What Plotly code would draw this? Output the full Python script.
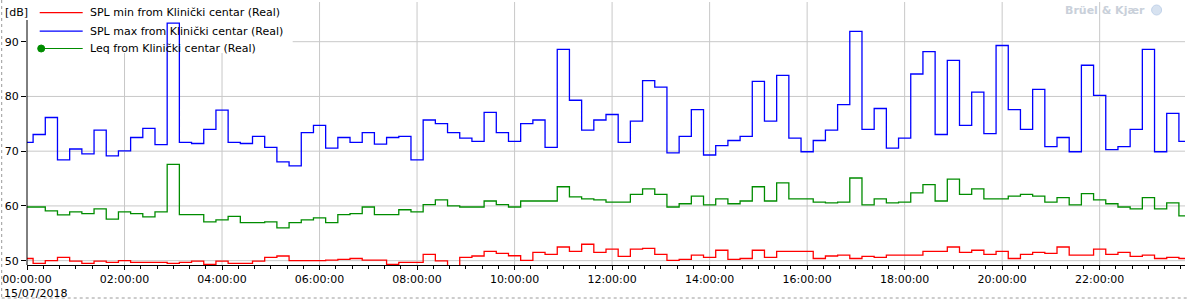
import plotly.graph_objects as go
import pandas as pd

# ---- data (15-min periods, 15/07/2018) ----
times = pd.date_range("2018-07-15 00:00:00", periods=96, freq="15min")

spl_max = [71.6, 73.05, 76.15, 68.4, 70.4, 69.5, 73.85, 69.15, 70.05, 72.5, 74.15, 71.2,
           93.4, 71.6, 71.4, 74.0, 77.5, 71.6, 71.4, 72.7, 70.7, 68.05, 67.3, 73.4,
           74.7, 70.55, 72.5, 71.6, 73.4, 71.3, 72.5, 72.7, 68.4, 75.7, 75.05, 73.4,
           72.4, 71.8, 77.1, 73.4, 71.8, 75.05, 75.7, 70.7, 88.6, 79.3, 73.85, 75.7,
           76.7, 71.6, 75.5, 82.9, 81.7, 69.7, 72.7, 77.6, 69.3, 71.0, 71.95, 72.7,
           82.75, 75.5, 83.85, 72.4, 69.9, 71.95, 73.85, 78.5, 91.9, 74.0, 77.8, 70.55,
           72.4, 84.1, 88.2, 73.05, 86.6, 74.7, 80.8, 73.2, 89.3, 77.6, 74.0, 81.3,
           70.85, 72.5, 69.9, 85.7, 80.2, 70.3, 70.85, 74.0, 88.6, 69.9, 76.9, 71.8]

leq = [59.8, 59.8, 59.1, 58.35, 58.9, 58.6, 59.45, 57.6, 58.9, 58.6, 58.0, 58.9,
       67.6, 58.4, 58.4, 57.1, 57.45, 58.1, 56.95, 56.95, 57.1, 56.0, 56.95, 57.45,
       57.8, 56.95, 58.4, 58.6, 59.8, 58.4, 58.4, 59.3, 58.9, 60.25, 61.1, 60.0,
       59.8, 59.8, 60.9, 60.25, 59.8, 60.9, 60.9, 60.9, 63.5, 61.65, 61.3, 61.1,
       60.7, 60.7, 62.1, 63.1, 62.1, 59.8, 60.4, 61.8, 60.2, 61.3, 60.4, 60.9,
       63.5, 60.9, 64.2, 61.3, 61.3, 60.7, 60.55, 60.7, 65.1, 60.2, 61.3, 60.55,
       60.7, 62.4, 63.9, 60.9, 64.9, 62.1, 63.1, 61.3, 61.3, 61.8, 62.1, 61.8,
       60.7, 61.5, 60.2, 62.25, 61.1, 60.4, 59.8, 59.45, 61.5, 59.45, 60.55, 58.2]

spl_min = [50.4, 49.5, 50.0, 50.6, 49.9, 49.5, 49.9, 49.7, 50.0, 49.7, 49.7, 49.7,
           49.5, 49.7, 49.9, 49.3, 49.9, 49.5, 49.5, 49.9, 50.6, 50.85, 50.0, 50.0,
           50.0, 50.1, 50.25, 50.4, 50.1, 50.1, 49.3, 49.7, 49.7, 51.15, 49.95, 49.1,
           50.6, 50.85, 51.7, 51.35, 50.9, 50.05, 51.5, 51.15, 52.5, 51.7, 53.0, 51.5,
           52.1, 50.8, 52.1, 52.25, 51.15, 50.05, 50.25, 51.0, 50.6, 51.9, 50.25, 50.4,
           51.9, 50.6, 51.7, 51.7, 51.7, 50.4, 50.85, 51.0, 50.4, 50.8, 50.6, 51.0,
           51.0, 51.0, 51.7, 51.7, 52.5, 51.5, 51.9, 51.15, 51.7, 50.4, 51.15, 51.5,
           51.35, 52.5, 51.0, 51.0, 52.1, 51.15, 51.5, 50.8, 51.0, 50.4, 50.6, 50.4]

y_ticks = [50, 60, 70, 80, 90]
x_ticks = pd.date_range("2018-07-15 00:00:00", "2018-07-15 22:00:00", freq="2h")

series_names = ["SPL min from Klinički centar (Real)",
                "SPL max from Klinički centar (Real)",
                "Leq from Klinički centar (Real)"]
series_colors = ["#ff0000", "#0000ff", "#008c00"]

W, H = 1190, 305
L, R, T, B = 27.3, 1185.4, 2, 265
LEG_R, LEG_B = 293, 53   # legend box (pixels) that hides the grid

def px(xp):
    return (xp - L) / (R - L)

def py(yp):
    return (B - yp) / (B - T)

fig = go.Figure()
for name, vals, col in zip(series_names, [spl_min, spl_max, leq], series_colors):
    fig.add_trace(go.Scatter(x=times, y=vals, name=name, mode="lines",
                             line=dict(color=col, width=1.3, shape="hvh"),
                             showlegend=False, hoverinfo="skip"))

font = "DejaVu Sans"
fs = 11
grid = "#c8c8c8"
shapes = []
annotations = []

# grid lines drawn as shapes (interrupted by the legend box)
x_end = pd.Timestamp("2018-07-15 23:45:00")
span = (x_end - times[0]).total_seconds()
for t in x_ticks[1:]:
    xp = L + (t - times[0]).total_seconds() / span * (R - L)
    top = py(LEG_B) if xp < LEG_R else 1
    shapes.append(dict(type="line", xref="x", yref="paper", x0=t, x1=t, y0=0, y1=top,
                       layer="below", line=dict(color=grid, width=1)))
for v in y_ticks:
    y_px = 41.7 + (90 - v) * 5.475
    left = px(LEG_R) if y_px < LEG_B else 0
    shapes.append(dict(type="line", xref="paper", yref="y", x0=left, x1=1, y0=v, y1=v,
                       layer="below", line=dict(color=grid, width=1)))

# custom legend
leg_rows = [12.7, 31.2, 48.5]
for yy, name, col in zip(leg_rows, series_names, series_colors):
    shapes.append(dict(type="line", xref="paper", yref="paper",
                       x0=px(40), x1=px(83), y0=py(yy), y1=py(yy),
                       line=dict(color=col, width=1.2)))
    annotations.append(dict(text=name, xref="paper", yref="paper",
                            x=px(88), y=py(yy), xanchor="left", yanchor="middle",
                            showarrow=False, font=dict(family=font, size=fs, color="#000")))
shapes.append(dict(type="circle", xref="paper", yref="paper",
                   x0=px(38), x1=px(45), y0=py(45), y1=py(52),
                   fillcolor="#008c00", line=dict(color="#008c00", width=1)))

# left axis line (starts below the unit label)
shapes.append(dict(type="line", xref="paper", yref="paper", x0=0, x1=0,
                   y0=py(20), y1=0, line=dict(color="#000", width=1)))

# y unit label
annotations.append(dict(text="[dB]", xref="paper", yref="paper", x=px(3), y=py(12.5),
                        xanchor="left", yanchor="middle", showarrow=False,
                        font=dict(family=font, size=fs, color="#000")))
# date under first tick
annotations.append(dict(text="15/07/2018", xref="paper", yref="paper", x=px(2), y=py(293),
                        xanchor="left", yanchor="middle", showarrow=False,
                        font=dict(family=font, size=fs, color="#000")))
# watermark
annotations.append(dict(text="<b>Brüel & Kjær</b>", xref="paper", yref="paper",
                        x=px(1147), y=py(10), xanchor="right", yanchor="middle",
                        showarrow=False, font=dict(family=font, size=11, color="#c9d0da")))
shapes.append(dict(type="circle", xref="paper", yref="paper",
                   x0=px(1152), x1=px(1162), y0=py(5), y1=py(15),
                   fillcolor="#d7e2f0", line=dict(color="#c2d3ea", width=1)))

# dotted frame
shapes.append(dict(type="line", xref="paper", yref="paper", x0=px(2), x1=px(2),
                   y0=py(0), y1=py(298), line=dict(color="#9a9a9a", width=1, dash="dot")))
shapes.append(dict(type="line", xref="paper", yref="paper", x0=px(2), x1=px(1190),
                   y0=py(298), y1=py(298), line=dict(color="#9a9a9a", width=1, dash="dot")))

fig.update_layout(
    width=W, height=H,
    margin=dict(l=L, r=W - R, t=T, b=H - B, pad=0),
    paper_bgcolor="white", plot_bgcolor="white",
    shapes=shapes, annotations=annotations,
    font=dict(family=font, size=fs, color="#000"),
    xaxis=dict(type="date",
               range=[times[0], x_end],
               tickmode="array", tickvals=list(x_ticks),
               tickformat="%H:%M:%S",
               showgrid=False,
               showline=True, linecolor="#000", linewidth=1,
               ticks="outside", ticklen=4, tickcolor="#000",
               minor=dict(dtick=1200000, ticks="outside", ticklen=3, tickcolor="#000",
                          showgrid=False),
               tickfont=dict(family=font, size=fs, color="#000"),
               zeroline=False, fixedrange=True),
    yaxis=dict(range=[49.21, 97.25], tickmode="array", tickvals=y_ticks,
               showgrid=False, showline=False,
               ticks="outside", ticklen=5, tickcolor="#000",
               tickfont=dict(family=font, size=fs, color="#000"),
               zeroline=False, fixedrange=True),
)

fig.write_html("out.html")
